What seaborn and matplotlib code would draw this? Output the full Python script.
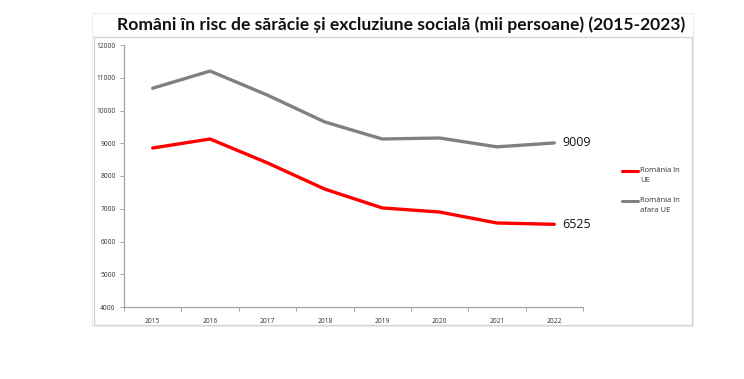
import pandas as pd
import matplotlib
matplotlib.use('Agg')
import matplotlib.pyplot as plt
import seaborn as sns
from matplotlib.patches import Rectangle
from matplotlib.lines import Line2D

years = ['2015', '2016', '2017', '2018', '2019', '2020', '2021', '2022']
in_ue = [8855, 9130, 8400, 7600, 7025, 6900, 6565, 6525]
afara_ue = [10680, 11205, 10470, 9650, 9130, 9160, 8890, 9009]
series_names = ['România în\nUE', 'România în\nafara UE']
series_colors = ['#ff0000', '#808080']

df = pd.DataFrame({
    'an': years * 2,
    'valoare': in_ue + afara_ue,
    'serie': [series_names[0]] * len(years) + [series_names[1]] * len(years),
})

sns.set_style('white')
plt.rcParams['font.family'] = ['Open Sans', 'DejaVu Sans']

fig = plt.figure(figsize=(7.44, 3.79), dpi=100)
W, H = 744, 379

def box(x0, y0, x1, y1, ec, lw):
    fig.patches.append(Rectangle((x0 / W, 1 - y1 / H), (x1 - x0) / W, (y1 - y0) / H,
                                 transform=fig.transFigure, fill=False,
                                 edgecolor=ec, linewidth=lw, zorder=0))

box(92, 13, 693, 326, '#ececec', 0.7)
box(94, 37, 692, 325, '#d6d6d6', 1.0)

fig.text(401 / W, 1 - 25 / H,
         'Români în risc de sărăcie și excluziune socială (mii persoane) (2015-2023)',
         ha='center', va='center', fontsize=12.6, fontweight='bold', color='#111111',
         family=['Lato', 'DejaVu Sans'])

ax = fig.add_axes([124 / W, 1 - 307 / H, (583 - 124) / W, (307 - 45) / H])
sns.lineplot(data=df, x='an', y='valoare', hue='serie', palette=series_colors,
             linewidth=2.4, ax=ax, legend=False, sort=False)

ax.set_ylim(4000, 12000)
ax.set_yticks(range(4000, 12001, 1000))
ax.set_xlim(-0.5, len(years) - 0.5)
ax.set_xlabel('')
ax.set_ylabel('')
for s in ['top', 'right']:
    ax.spines[s].set_visible(False)
for s in ['left', 'bottom']:
    ax.spines[s].set_color('#a6a6a6')
    ax.spines[s].set_linewidth(0.9)
ax.tick_params(axis='y', labelsize=4.8, colors='#333333', length=3, width=0.7,
               direction='out', left=True, pad=3)
ax.tick_params(axis='y', color='#a6a6a6')
ax.tick_params(axis='x', labelsize=4.8, colors='#333333', length=0, pad=8)
ax.set_xticks(range(len(years)))
ax.set_xticklabels(years)
ax.set_xticks([i + 0.5 for i in range(-1, len(years))], minor=True)
ax.tick_params(axis='x', which='minor', length=3, width=0.7, color='#a6a6a6',
               direction='out', bottom=True)

ax.text(len(years) - 1 + 0.14, afara_ue[-1], str(afara_ue[-1]), fontsize=9,
        va='center', ha='left', color='#111111', clip_on=False)
ax.text(len(years) - 1 + 0.14, in_ue[-1], str(in_ue[-1]), fontsize=9,
        va='center', ha='left', color='#111111', clip_on=False)

for name, color, yy in zip(series_names, series_colors, [171, 201]):
    fig.add_artist(Line2D([622 / W, 638 / W], [1 - yy / H] * 2, color=color,
                          linewidth=2.2, transform=fig.transFigure))
    fig.text(640 / W, 1 - (yy - 4) / H, name, fontsize=5.5, va='top', ha='left',
             color='#333333', linespacing=1.6)

fig.savefig('out.png', dpi=100)
